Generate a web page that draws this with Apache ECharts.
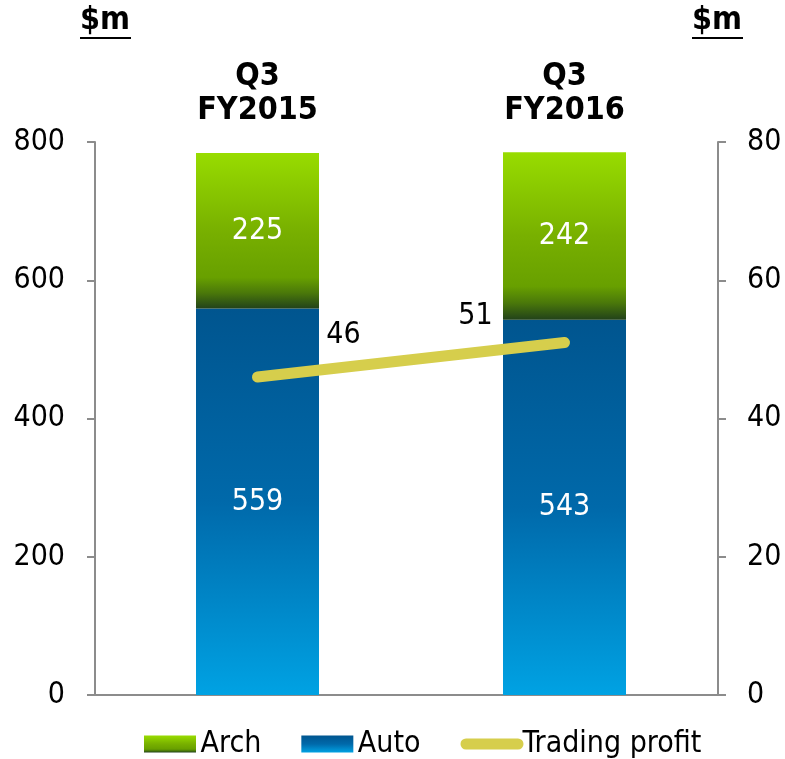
<!DOCTYPE html>
<html>
<head>
<meta charset="utf-8">
<script src="https://cdn.jsdelivr.net/npm/echarts@6/dist/echarts.min.js"></script>
<style>
  html, body { margin: 0; padding: 0; background: #fff; }
  #main { width: 785px; height: 759px; }
</style>
</head>
<body>
<div id="main"></div>
<script>
// data
const categories = ['Q3\nFY2015', 'Q3\nFY2016'];
const archValues = [225, 242];
const autoValues = [559, 543];
const profitValues = [46, 51];
const profitLabelOffsets = [[86, -42], [-89, -26]];

const FONT = '"DejaVu Sans Condensed", "Liberation Sans", sans-serif';
const axisGrey = '#8c8c8c';

let chart = echarts.init(document.getElementById('main'));

const archColor = new echarts.graphic.LinearGradient(0, 0, 0, 1, [
  { offset: 0, color: '#98dc00' },
  { offset: 0.5, color: '#78b000' },
  { offset: 0.8, color: '#68a000' },
  { offset: 0.9, color: '#4a780a' },
  { offset: 1, color: '#22421a' }
]);
const autoColor = new echarts.graphic.LinearGradient(0, 0, 0, 1, [
  { offset: 0, color: '#00558f' },
  { offset: 0.5, color: '#0069aa' },
  { offset: 1, color: '#00a2e3' }
]);

let option = {
  animation: false,
  textStyle: { fontFamily: FONT },
  // the category band starts a little right of the left value axis
  grid: { left: 104, right: 67, top: 142, bottom: 64 },
  graphic: [
    { type: 'text', left: 80, top: 5, style: { text: '$m', font: 'bold 32px ' + FONT, fill: '#000' } },
    { type: 'rect', left: 80, top: 37, shape: { width: 51, height: 2 }, style: { fill: '#000' } },
    { type: 'text', left: 692, top: 5, style: { text: '$m', font: 'bold 32px ' + FONT, fill: '#000' } },
    { type: 'rect', left: 692, top: 37, shape: { width: 51, height: 2 }, style: { fill: '#000' } },
    // stub of the base line between the left axis and the grid edge
    { type: 'rect', left: 94, top: 694, shape: { width: 11, height: 2 }, style: { fill: axisGrey } }
  ],
  legend: {
    top: 729,
    left: 144,
    padding: 0,
    itemWidth: 63,
    itemHeight: 17,
    itemGap: 40,
    textStyle: { fontSize: 30, color: '#000', fontFamily: FONT, padding: [0, 0, 0, -6] },
    data: [
      { name: 'Arch', icon: 'path://M0,0 L52,0 L52,17 L0,17 Z' },
      { name: 'Auto', icon: 'path://M0,0 L52,0 L52,17 L0,17 Z' },
      { name: 'Trading profit', icon: 'path://M5.5,0 L57.5,0 A5.5,5.5 0 0 1 57.5,11 L5.5,11 A5.5,5.5 0 0 1 5.5,0 Z' }
    ]
  },
  xAxis: [
    {
      type: 'category',
      data: categories,
      position: 'bottom',
      axisLine: { lineStyle: { color: axisGrey, width: 2 } },
      axisTick: { show: false },
      axisLabel: { show: false }
    },
    {
      type: 'category',
      data: categories,
      position: 'top',
      axisLine: { show: false },
      axisTick: { show: false },
      axisLabel: {
        margin: 14,
        fontSize: 32,
        fontWeight: 'bold',
        color: '#000',
        lineHeight: 34,
        fontFamily: FONT
      }
    }
  ],
  yAxis: [
    {
      type: 'value',
      min: 0, max: 800, interval: 200,
      offset: 9,
      splitLine: { show: false },
      axisLine: { show: true, lineStyle: { color: axisGrey, width: 2 } },
      axisTick: { show: true, length: 8, lineStyle: { color: axisGrey, width: 2 } },
      axisLabel: { fontSize: 30, color: '#000', margin: 30, fontFamily: FONT }
    },
    {
      type: 'value',
      min: 0, max: 80, interval: 20,
      position: 'right',
      splitLine: { show: false },
      axisLine: { show: true, lineStyle: { color: axisGrey, width: 2 } },
      axisTick: { show: true, length: 8, lineStyle: { color: axisGrey, width: 2 } },
      axisLabel: { fontSize: 30, color: '#000', margin: 29, fontFamily: FONT }
    }
  ],
  series: [
    {
      name: 'Auto',
      type: 'bar',
      stack: 'sales',
      barWidth: 123,
      data: autoValues,
      itemStyle: { color: autoColor },
      label: { show: true, position: 'inside', color: '#fff', fontSize: 30, fontFamily: FONT }
    },
    {
      name: 'Arch',
      type: 'bar',
      stack: 'sales',
      barWidth: 123,
      data: archValues,
      itemStyle: { color: archColor },
      label: { show: true, position: 'inside', color: '#fff', fontSize: 30, fontFamily: FONT }
    },
    {
      name: 'Trading profit',
      type: 'line',
      yAxisIndex: 1,
      symbol: 'circle',
      symbolSize: 1,
      itemStyle: { color: '#d6ce4c' },
      lineStyle: { color: '#d6ce4c', width: 11, cap: 'round' },
      data: profitValues.map((v, i) => ({
        value: v,
        label: { offset: profitLabelOffsets[i] }
      })),
      label: { show: true, position: 'inside', color: '#000', fontSize: 30, fontFamily: FONT },
      z: 5
    }
  ]
};

chart.setOption(option);
</script>
</body>
</html>
